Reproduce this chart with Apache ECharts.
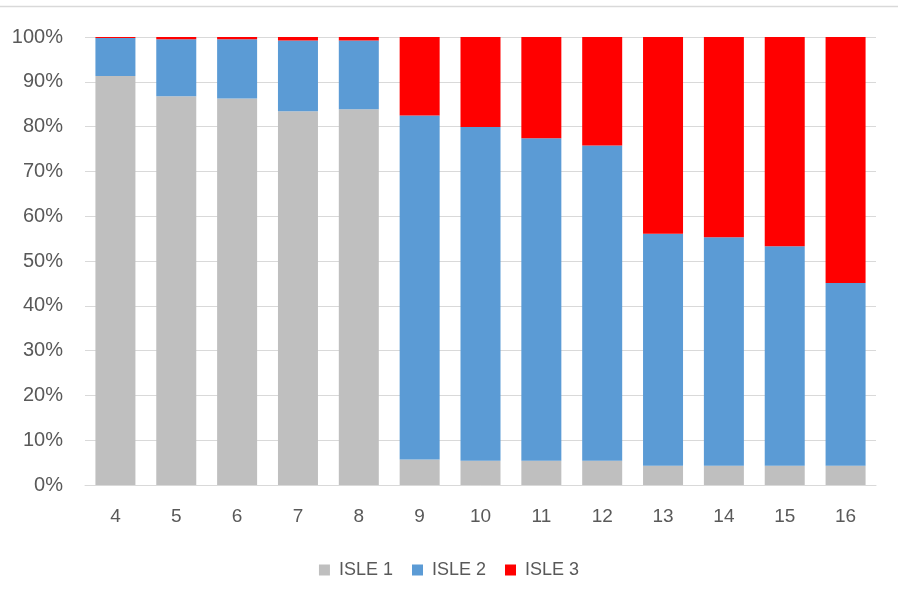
<!DOCTYPE html>
<html>
<head>
<meta charset="utf-8">
<script src="https://cdn.jsdelivr.net/npm/echarts@6/dist/echarts.min.js"></script>
<style>
  html, body { margin: 0; padding: 0; background: #fff; }
  #chart { width: 898px; height: 602px; }
</style>
</head>
<body>
<div id="chart"></div>
<script>
// Share of each isle per category (percent, stacks to 100)
const categories = ['4', '5', '6', '7', '8', '9', '10', '11', '12', '13', '14', '15', '16'];
const isle1 = [91.3, 86.8, 86.3, 83.4, 83.9, 5.7, 5.4, 5.4, 5.4, 4.3, 4.3, 4.3, 4.3];
const isle2 = [8.5, 12.7, 13.2, 15.8, 15.3, 76.8, 74.5, 72.0, 70.4, 51.8, 51.0, 49.0, 40.8];
const isle3 = [0.2, 0.5, 0.5, 0.8, 0.8, 17.5, 20.1, 22.6, 24.2, 43.9, 44.7, 46.7, 54.9];
const seriesNames = ['ISLE 1', 'ISLE 2', 'ISLE 3'];
const seriesColors = ['#bfbfbf', '#5b9bd5', '#ff0000'];

const textColor = '#595959';
const fontFamily = 'Liberation Sans, Arial, sans-serif';

const chart = echarts.init(document.getElementById('chart'), null, { renderer: 'canvas' });

const makeSeries = (name, data, color) => ({
  name,
  type: 'bar',
  stack: 'total',
  data,
  barWidth: 40,
  itemStyle: { color },
  emphasis: { disabled: true }
});

chart.setOption({
  animation: false,
  backgroundColor: '#ffffff',
  grid: { left: 85, right: 22, top: 37, bottom: 117, containLabel: false },
  graphic: [{
    type: 'line',
    shape: { x1: 0, y1: 6.5, x2: 898, y2: 6.5 },
    style: { stroke: '#d9d9d9', lineWidth: 1.5 }
  }],
  legend: {
    top: 556,
    left: 'center',
    itemWidth: 11,
    itemHeight: 11,
    itemGap: 19,
    icon: 'rect',
    textStyle: { color: textColor, fontSize: 18, fontFamily, padding: [0, 0, 0, 4] },
    data: seriesNames
  },
  xAxis: {
    type: 'category',
    data: categories,
    axisLine: { lineStyle: { color: '#d9d9d9', width: 1 } },
    axisTick: { show: false },
    axisLabel: { color: textColor, fontSize: 19, fontFamily, margin: 22 }
  },
  yAxis: {
    type: 'value',
    min: 0,
    max: 100,
    interval: 10,
    axisLine: { show: false },
    axisTick: { show: false },
    splitLine: { lineStyle: { color: '#d9d9d9', width: 1 } },
    axisLabel: { color: textColor, fontSize: 20, fontFamily, margin: 22, formatter: '{value}%' }
  },
  series: [
    makeSeries(seriesNames[0], isle1, seriesColors[0]),
    makeSeries(seriesNames[1], isle2, seriesColors[1]),
    makeSeries(seriesNames[2], isle3, seriesColors[2])
  ]
});
</script>
</body>
</html>
